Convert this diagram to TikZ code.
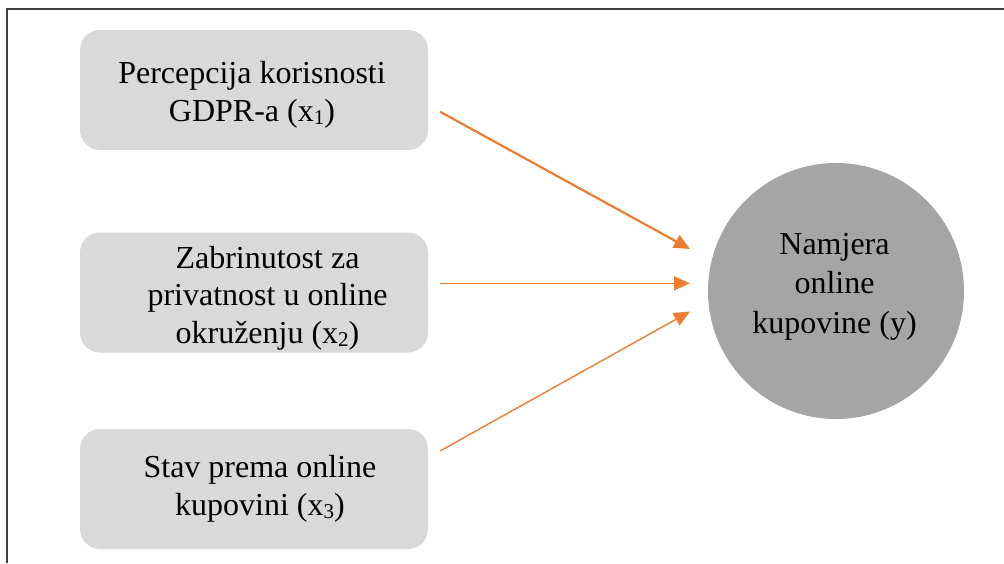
\documentclass[tikz,border=0pt]{standalone}
\usepackage{fontspec}
\setmainfont{Liberation Serif}
\usetikzlibrary{arrows.meta}
\definecolor{boxgray}{HTML}{D9D9D9}
\definecolor{circgray}{HTML}{A5A5A5}
\definecolor{arroworange}{HTML}{ED7D31}
\definecolor{framegray}{HTML}{404040}
\newcommand{\lowdigit}[1]{\raisebox{-3pt}{\fontsize{21}{21}\selectfont #1}}
\begin{document}
\begin{tikzpicture}[x=1pt,y=-1pt,
  factorbox/.style={draw=none, fill=boxgray, rounded corners=20pt,
    minimum width=348pt, minimum height=120pt, inner sep=0pt},
  outcome/.style={circle, draw=none, fill=circgray, minimum size=256pt, inner sep=0pt},
  lbl/.style={inner sep=0pt, anchor=base},
  link/.style={draw=arroworange, -{Triangle[length=16pt,width=14pt]}},
]
\useasboundingbox (0,0) rectangle (1004,563);
\draw[framegray, line width=1.3pt] (7,563) -- (7,9) -- (1004,9);

\node[factorbox] (b1) at (254,90) {};
\node[factorbox] (b2) at (254,292.5) {};
\node[factorbox] (b3) at (254,489) {};
\node[outcome] (y) at (836,291) {};

\node[lbl, font=\fontsize{32}{38.4}\selectfont] (t1) at (252,83.3)
  {\begin{tabular}[t]{@{}c@{}}Percepcija korisnosti\\GDPR-a (x\lowdigit{1})\end{tabular}};
\node[lbl, font=\fontsize{32}{37.5}\selectfont] (t2) at (267.5,268.3)
  {\begin{tabular}[t]{@{}c@{}}Zabrinutost za\\privatnost u online\\okruženju (x\lowdigit{2})\end{tabular}};
\node[lbl, font=\fontsize{32}{38}\selectfont] (t3) at (260,477.3)
  {\begin{tabular}[t]{@{}c@{}}Stav prema online\\kupovini (x\lowdigit{3})\end{tabular}};
\node[lbl, font=\fontsize{32}{39.5}\selectfont] (ty) at (834.5,254.3)
  {\begin{tabular}[t]{@{}c@{}}Namjera\\online\\kupovine (y)\end{tabular}};

\coordinate (s1) at (440,111.7);
\coordinate (e1) at (690,249);
\coordinate (s2) at (440,283.3);
\coordinate (e2) at (690,283.3);
\coordinate (s3) at (440,451);
\coordinate (e3) at (690,311.5);

\draw[link, line width=2.2pt] (s1) -- (e1);
\draw[link, line width=1.4pt] (s2) -- (e2);
\draw[link, line width=1.4pt] (s3) -- (e3);
\end{tikzpicture}
\end{document}
